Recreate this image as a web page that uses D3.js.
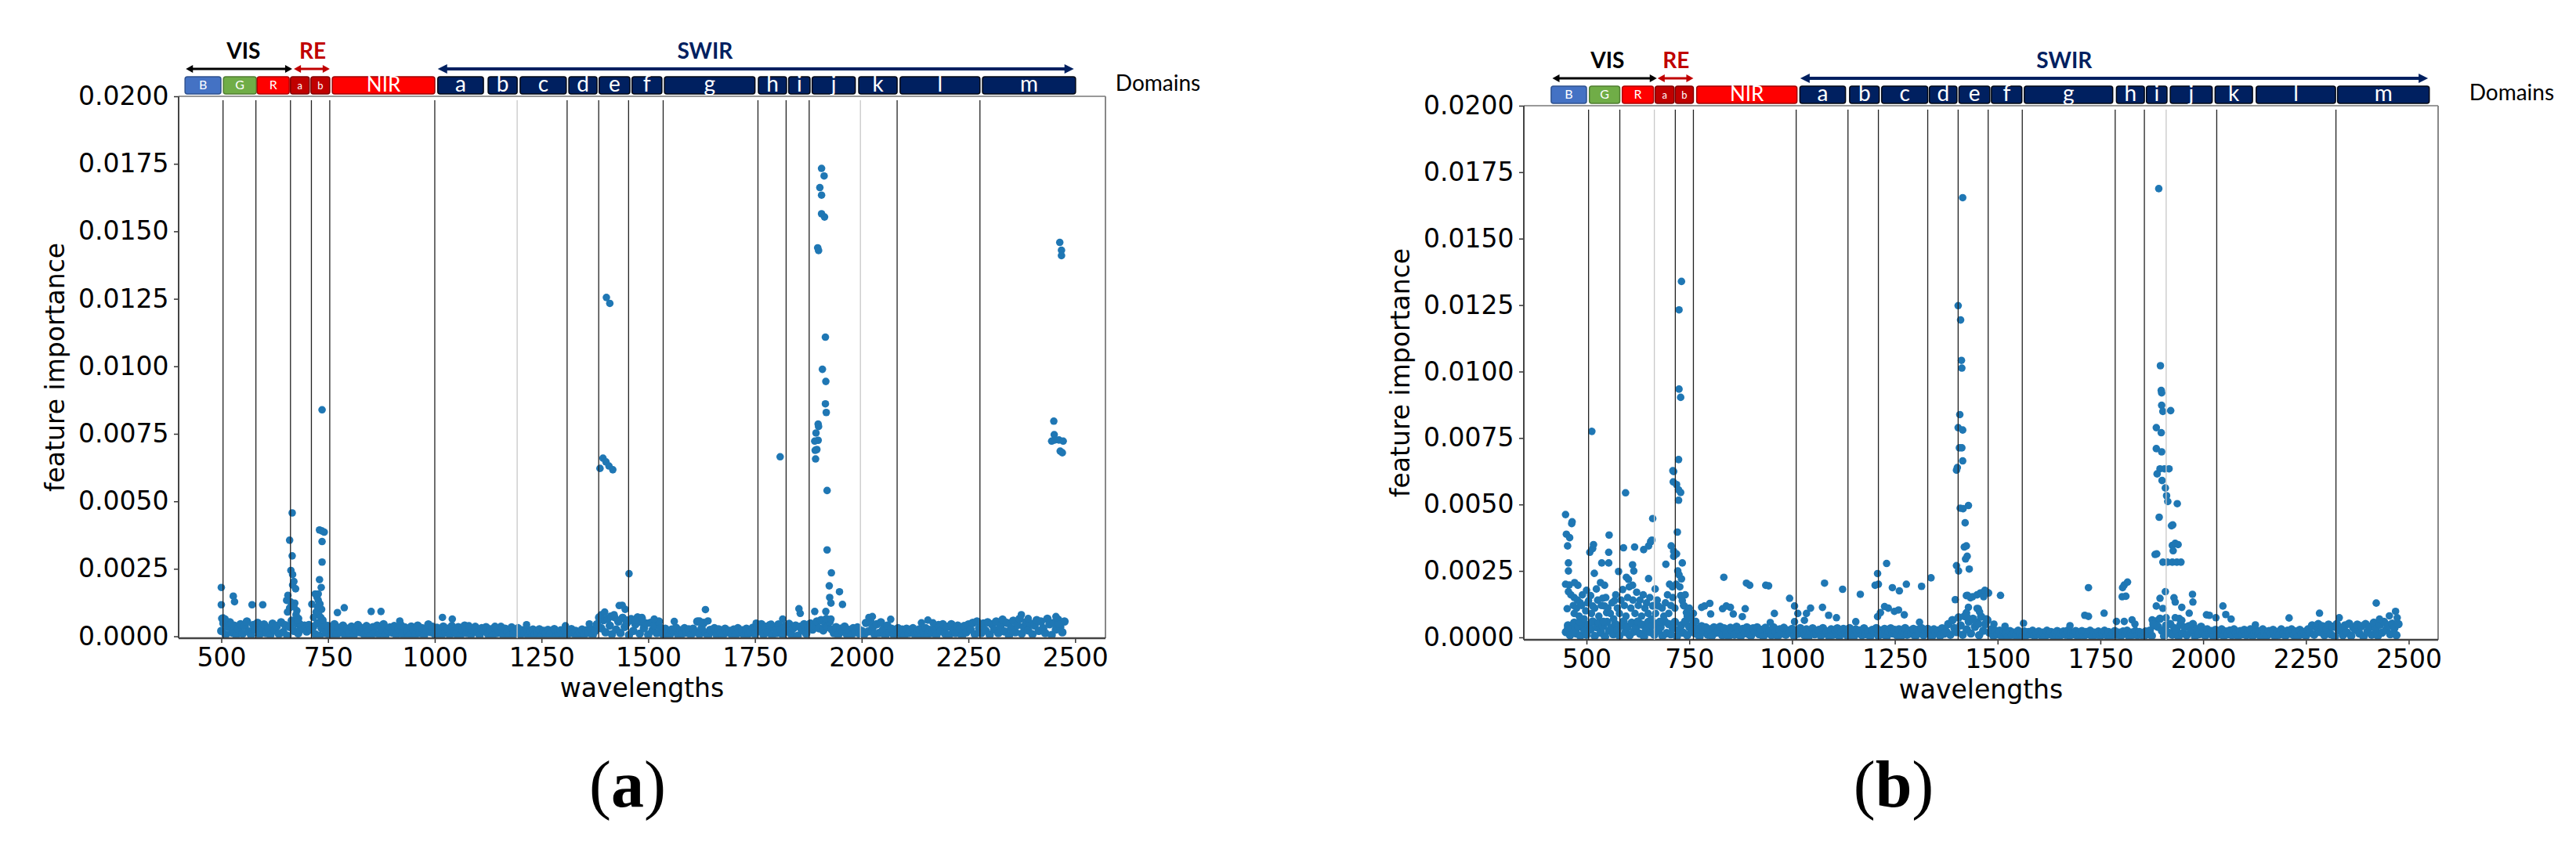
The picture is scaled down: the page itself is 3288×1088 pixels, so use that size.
<!DOCTYPE html>
<html>
<head>
<meta charset="utf-8">
<script src="https://cdn.jsdelivr.net/npm/d3@7"></script>
<style>
  body { margin: 0; background: #fff; }
  svg { display: block; }
</style>
</head>
<body>
<svg id="fig" width="3288" height="1088"></svg>
<script>
/* feature importance per wavelength, two panels (a) and (b) */

// axis ticks
const xTicks = [500, 750, 1000, 1250, 1500, 1750, 2000, 2250, 2500];
const yTicks = [0, 0.0025, 0.005, 0.0075, 0.01, 0.0125, 0.015, 0.0175, 0.02];

// spectral domains drawn above the plots
const bandNames = ["B", "G", "R", "a", "b", "NIR", "a", "b", "c", "d", "e", "f", "g", "h", "i", "j", "k", "l", "m"];
const bandGroups = ["B", "G", "R", "RE", "RE", "NIR", "SWIR", "SWIR", "SWIR", "SWIR", "SWIR", "SWIR", "SWIR", "SWIR", "SWIR", "SWIR", "SWIR", "SWIR", "SWIR"];
const bandEdgesA = [[415, 499], [505, 582], [584, 659], [662, 706], [710, 754], [760, 1000], [1007, 1114], [1125, 1193], [1200, 1308], [1314, 1380], [1385, 1457], [1462, 1532], [1538, 1750], [1758, 1824], [1829, 1879], [1884, 1985], [1993, 2083], [2090, 2277], [2283, 2501]];
const bandEdgesB = [[414, 500], [507, 581], [587, 663], [667, 713], [716, 760], [768, 1012], [1019, 1130], [1140, 1212], [1218, 1330], [1334, 1401], [1406, 1481], [1485, 1559], [1565, 1780], [1789, 1857], [1862, 1912], [1920, 2022], [2029, 2120], [2129, 2322], [2327, 2550]];
const regionNames = ["VIS", "RE", "SWIR"];
const regionSpanA = [[417, 666], [670, 754], [1007, 2497]];
const regionSpanB = [[417, 671], [673, 760], [1020, 2547]];
const regionLabelA = [552, 714, 1633];
const regionLabelB = [551, 718, 1662];

// domain boundary lines (nm)
const linesA = [504, 581, 662, 711, 754, 1000, 1193, 1310, 1384, 1454, 1535, 1757, 1823, 1877, 1997, 2083, 2277];
const linesB = [505, 581, 665, 716, 760, 1010, 1136, 1210, 1330, 1404, 1477, 1560, 1786, 1857, 1910, 2033, 2323];
const fadedA = [1193, 1997];
const fadedB = [665, 1910];

// low-importance floor, one value every 5 nm, in units of 1e-5
const floorStartA = 500;
const floorA = [
  20,48,6,35,52,14,40,3,28,45,10,38,55,18,4,42,25,50,8,33,
  44,12,30,5,47,22,38,9,52,16,41,2,35,58,20,48,11,25,30,40,
  18,42,25,35,8,48,2,30,44,12,38,0,22,45,6,32,15,40,4,28,
  10,36,3,25,42,15,30,6,38,20,2,34,12,40,8,27,45,5,22,33,
  14,38,4,28,42,9,33,18,2,36,24,7,40,12,30,3,26,44,16,35,
  8,32,20,2,36,14,28,5,38,18,10,34,3,25,40,12,30,6,22,35,
  15,4,30,20,34,8,26,2,32,12,22,35,6,28,16,3,33,10,24,30,
  5,22,12,28,2,18,25,8,14,26,3,20,10,24,6,17,27,1,12,22,
  8,24,4,18,27,11,20,2,15,25,7,22,13,28,5,19,45,70,30,60,
  15,65,40,8,72,25,55,12,68,35,50,5,60,20,45,70,10,52,30,48,
  6,50,22,40,12,55,30,8,28,15,3,25,18,32,5,22,10,30,14,26,
  4,28,16,55,8,30,50,12,2,24,18,30,6,26,12,3,28,15,20,8,
  25,5,30,14,22,3,28,10,18,32,8,40,20,45,6,35,15,42,3,30,
  12,44,25,5,38,18,46,8,30,40,2,35,22,45,10,32,48,25,40,55,
  30,60,22,45,35,55,25,12,34,5,28,18,36,8,24,2,30,15,33,10,
  20,4,50,18,55,30,8,45,12,52,25,2,40,15,28,6,22,30,10,25,
  3,28,12,22,30,6,18,26,2,15,30,8,24,12,28,4,42,20,45,10,
  35,5,45,20,12,40,28,2,38,15,44,25,50,8,55,30,12,48,22,52,
  6,45,25,55,12,38,62,18,50,3,30,58,15,42,65,10,35,52,22,48,
  8,40,60,20,55,30,12,65,45,5,50,25,62,35,15,55
];
const floorStartB = 450;
const floorB = [
  20,45,8,35,55,15,40,5,50,25,
  10,48,30,60,5,38,55,18,42,2,58,25,35,12,50,28,6,45,60,20,
  40,8,55,22,35,60,14,48,3,30,58,20,45,10,52,26,38,5,60,16,
  50,12,35,58,4,28,45,18,60,8,40,22,55,15,32,3,42,20,38,10,
  30,5,38,18,25,40,8,34,14,2,36,22,10,40,28,4,32,16,38,12,
  6,34,20,38,12,28,3,36,16,25,8,38,22,4,30,14,36,10,26,18,
  32,5,26,14,35,20,8,30,2,24,34,12,18,28,6,35,15,22,4,30,
  10,28,34,4,20,32,14,6,35,24,2,30,16,26,8,34,12,22,3,28,
  18,35,6,26,12,32,2,22,34,15,28,8,30,4,20,35,10,25,14,32,
  4,28,16,35,8,24,32,12,2,30,18,26,6,34,14,22,50,10,65,35,
  20,75,45,10,80,30,60,15,70,40,55,8,78,25,50,65,18,30,5,25,
  12,25,4,20,15,2,24,10,18,6,25,14,3,22,8,20,12,25,5,16,
  22,8,18,3,25,12,20,6,16,24,2,14,22,10,25,5,18,12,24,4,
  15,24,6,20,12,25,3,18,10,22,5,16,25,8,20,2,14,24,10,18,
  6,22,14,25,3,18,10,24,8,20,15,2,22,12,25,6,45,60,40,70,
  25,5,45,18,50,10,35,28,2,48,15,38,8,42,22,50,4,30,12,40,
  20,6,30,14,24,2,28,10,18,30,4,22,12,26,8,30,16,3,24,12,
  28,8,20,30,4,16,26,12,2,30,18,6,24,14,28,3,20,10,30,15,
  5,25,14,30,8,22,2,28,12,20,6,30,18,45,10,38,50,20,42,8,
  30,48,12,40,2,50,25,35,8,45,18,52,5,38,28,48,15,42,3,50,
  22,40,10,55,32,6,48,18,58,28,45,12,52,35,8,50
];

// points standing out of the floor: [wavelength, importance]
const peaksA = [
  [500,0.00181],[500,0.00117],[501,0.00066],[504,0.00068],[509,0.00064],[528,0.00149],[531,0.00128],[572,0.00117],[597,0.00117],
  [666,0.00457],[660,0.00356],[666,0.00298],[663,0.00244],[667,0.00229],[670,0.00203],[667,0.0019],[674,0.00176],[656,0.00152],
  [653,0.00133],[662,0.00128],[672,0.00123],[677,0.00095],[681,0.00066],[684,0.00047],[660,0.00105],[670,0.0011],[675,0.0008],
  [679,0.0006],[655,0.0009],
  [730,0.00394],[736,0.0039],[741,0.00386],[736,0.00351],[736,0.00275],[730,0.0021],[734,0.00181],[727,0.00157],[720,0.00157],
  [712,0.00119],[727,0.00133],[724,0.00145],[731,0.0012],[735,0.001],[722,0.0009],[728,0.0008],[716,0.0007],[733,0.0007],
  [725,0.0011],[738,0.0006],[736,0.00839],
  [772,0.00088],[788,0.00106],[851,0.00092],[874,0.00092],[918,0.00057],[1018,0.0007],[1041,0.00064],[1080,0.00039],
  [1141,0.00037],[1215,0.00043],[1306,0.00039],[1362,0.00046],
  [1402,0.01255],[1410,0.01233],[1387,0.00622],[1394,0.0066],[1401,0.00646],[1408,0.00631],[1417,0.00617],[1455,0.00232],
  [1432,0.00114],[1439,0.00115],[1446,0.001],[1485,0.0007],[1390,0.0008],[1398,0.0009],[1412,0.00075],[1420,0.0008],
  [1428,0.0006],[1440,0.0007],[1450,0.0006],[1460,0.00065],[1470,0.0006],
  [1486,0.00066],[1514,0.00064],[1561,0.00055],[1620,0.00057],[1634,0.00099],[1640,0.00057],[1753,0.00049],[1788,0.00045],
  [1809,0.00665],[1815,0.00064],[1853,0.00102],[1856,0.00085],
  [1906,0.01733],[1912,0.01705],[1902,0.01662],[1906,0.01634],[1906,0.01565],[1913,0.01553],[1897,0.01439],[1899,0.01429],
  [1915,0.01108],[1908,0.00989],[1916,0.00944],[1915,0.00861],[1917,0.00829],[1898,0.00786],[1899,0.00777],[1893,0.00753],
  [1898,0.00726],[1895,0.00692],[1890,0.00723],[1891,0.00689],[1892,0.00657],[1919,0.0054],[1919,0.0032],[1929,0.00235],
  [1924,0.00187],[1948,0.00165],[1925,0.00144],[1928,0.00123],[1955,0.00118],[1916,0.00092],[1917,0.00066],[1928,0.00064],
  [1890,0.00092],
  [2017,0.0007],[2025,0.00073],[2068,0.00063],[2140,0.0005],[2155,0.0006],[2167,0.0005],[2374,0.0008],[2390,0.00066],
  [2455,0.00073],[2462,0.00045],
  [2464,0.01459],[2468,0.0143],[2468,0.0141],[2450,0.00797],[2451,0.00747],[2452,0.00727],[2462,0.00727],[2465,0.00686],
  [2445,0.00723],[2472,0.00723],[2470,0.0068]
];
const peaksB = [
  [449,0.00462],[451,0.00388],[459,0.00375],[454,0.00344],[465,0.00435],[464,0.00428],[456,0.0028],[456,0.0025],[449,0.002],
  [458,0.00197],[456,0.00172],[471,0.00206],[479,0.00196],[462,0.0016],[470,0.0015],[478,0.0014],[485,0.0013],[468,0.0012],
  [490,0.0016],[453,0.00108],[454,0.00034],[483,0.00059],
  [500,0.00177],[508,0.0032],[515,0.00334],[517,0.00349],[519,0.00241],[524,0.00182],[505,0.00138],[510,0.00157],[515,0.00118],
  [534,0.00206],[544,0.00196],[537,0.0028],[554,0.0028],[555,0.00385],[554,0.0032],[539,0.00147],[544,0.00118],[549,0.00093],
  [578,0.00248],[568,0.00138],[590,0.00337],[595,0.00544],[597,0.00226],[602,0.00218],[612,0.00273],[617,0.0034],[615,0.0025],
  [612,0.00196],[639,0.0033],[651,0.00344],[656,0.0036],[659,0.00366],[661,0.00447],[651,0.00221],[667,0.00182],[675,0.00118],
  [661,0.00118],[693,0.00275],[706,0.00344],[712,0.00305],[712,0.00624],[711,0.00585],[719,0.00575],[724,0.00555],[729,0.00545],
  [724,0.00516],[721,0.00396],[712,0.00324],[719,0.00314],[702,0.002],[709,0.0019],[722,0.0025],[733,0.0028],[725,0.00236],
  [729,0.00157],[733,0.00138],[738,0.00118],[743,0.00093],
  [470,0.0009],[476,0.0011],[482,0.0008],[488,0.0012],[494,0.0007],[498,0.001],[503,0.0013],[512,0.0009],[520,0.0011],
  [527,0.0014],[530,0.0008],[536,0.0012],[541,0.0006],[547,0.0015],[552,0.0011],[558,0.0009],[562,0.0013],[566,0.0007],
  [571,0.0016],[575,0.0011],[580,0.0009],[584,0.0014],[588,0.0018],[592,0.0012],[596,0.0008],[600,0.0015],[604,0.0019],
  [608,0.0011],[613,0.0014],[618,0.0009],[622,0.0017],[626,0.0012],[630,0.0014],[634,0.0008],[638,0.0016],[642,0.0011],
  [646,0.0013],[650,0.0009],[654,0.0015],[658,0.0007],[662,0.0012],[668,0.0009],[672,0.0014],[678,0.0006],[684,0.0011],
  [688,0.0008],[692,0.0013],[697,0.0016],[700,0.0009],[705,0.0012],[710,0.0015],[715,0.0011],[718,0.002],[727,0.0019],
  [731,0.0022],[736,0.0012],[740,0.0016],[745,0.0008],[750,0.0011],[755,0.0007],[760,0.0009],[766,0.0006],
  [513,0.00775],[710,0.00627],[724,0.00669],[729,0.00903],[725,0.00934],[725,0.01232],[731,0.01339],
  [780,0.00113],[787,0.00118],[800,0.00128],[802,0.00088],[834,0.00226],[831,0.00108],[840,0.00118],[850,0.00113],[857,0.00088],
  [889,0.00204],[897,0.00196],[886,0.00108],[879,0.00078],[936,0.00196],[943,0.00194],[957,0.0009],[947,0.00056],[994,0.00147],
  [1006,0.00118],[1014,0.0009],[1006,0.00059],[1035,0.0009],[1030,0.00064],[1045,0.0011],[1079,0.00204],[1074,0.00113],
  [1089,0.00083],[1108,0.00074],[1123,0.00181],[1155,0.00059],[1166,0.00162],[1202,0.00196],[1210,0.002],[1208,0.0024],
  [1230,0.00278],[1208,0.00078],[1215,0.00093],[1225,0.00116],[1244,0.00187],[1261,0.00175],[1234,0.0011],[1249,0.00098],
  [1259,0.00103],[1273,0.00085],[1278,0.002],[1310,0.00057],[1315,0.00192],[1338,0.00224],
  [1397,0.00142],[1400,0.0027],[1405,0.0025],[1409,0.00486],[1416,0.00484],[1429,0.00496],[1421,0.00431],[1419,0.0034],
  [1424,0.00344],[1422,0.00295],[1426,0.00305],[1431,0.00257],[1424,0.00157],[1434,0.00149],[1424,0.00093],[1429,0.00113],
  [1453,0.00108],[1458,0.00167],[1473,0.00172],[1478,0.00167],[1400,0.00629],
  [1415,0.01654],[1404,0.01248],[1410,0.01194],[1412,0.01042],[1413,0.01013],[1408,0.00838],[1404,0.00789],[1415,0.0078],
  [1407,0.00713],[1413,0.00713],[1415,0.00664],[1402,0.00639],
  [1427,0.00158],[1439,0.00153],[1450,0.0016],[1461,0.00167],[1469,0.00177],[1476,0.00167],[1466,0.00153],[1507,0.00158],
  [1424,0.00091],[1425,0.00079],[1450,0.00109],[1456,0.00096],[1473,0.0007],[1454,0.0005],[1491,0.0005],[1518,0.00042],
  [1563,0.00053],[1676,0.00044],[1721,0.00187],[1712,0.00083],[1721,0.00079],[1759,0.00091],[1789,0.0006],[1808,0.0006],
  [1803,0.00153],[1812,0.00155],[1804,0.00187],[1808,0.00197],[1816,0.00208],[1827,0.00066],[1834,0.0005],[1876,0.00066],
  [1878,0.0005],
  [1892,0.01688],[1896,0.01022],[1898,0.00929],[1899,0.0092],[1899,0.00873],[1921,0.00853],[1902,0.0085],[1886,0.00789],
  [1898,0.0077],[1886,0.0071],[1899,0.00698],[1895,0.00634],[1906,0.00634],[1917,0.00634],[1888,0.00615],
  [1900,0.0059],[1908,0.00562],[1911,0.00533],[1914,0.00511],[1937,0.00503],[1893,0.00452],[1923,0.0042],[1926,0.00423],
  [1925,0.00346],[1932,0.00354],[1939,0.00349],[1927,0.00326],[1883,0.00312],[1887,0.00314],[1902,0.00283],[1913,0.00283],
  [1925,0.00283],[1936,0.00283],[1946,0.00283],[1908,0.00172],[1895,0.00147],[1886,0.00118],[1902,0.00109],[1929,0.00149],
  [1932,0.00133],[1948,0.00113],[1974,0.00162],[1975,0.00133],[1966,0.00091],[1910,0.00074],[1932,0.00074],[1942,0.00071],
  [1948,0.00064],
  [2008,0.00085],[2015,0.00083],[2031,0.00074],[2048,0.00118],[2055,0.00086],[2068,0.00069],[2127,0.00047],[2209,0.00073],
  [2283,0.00091],[2331,0.00074],[2421,0.00129],[2429,0.00069],[2453,0.00081],[2468,0.00098],[2472,0.00074]
];

/* ---- drawing ---- */
const svg = d3.select("#fig");
const FONT = "'DejaVu Sans', sans-serif";
const DOT = "#1f77b4";
const groupFill = { B: "#4472C4", G: "#70AD47", R: "#FF0000", RE: "#C00000", NIR: "#FF0000", SWIR: "#002060" };
const groupStroke = { B: "#2F528F", G: "#507E32", R: "#B00000", RE: "#800000", NIR: "#A00000", SWIR: "#000814" };
const groupFont = { B: 16, G: 16, R: 16, RE: 13, NIR: 26, SWIR: 28 };
const regionColor = ["#000000", "#C00000", "#002060"];

function drawPanel(p) {
  const g = svg.append("g").attr("id", p.id);
  const x = d3.scaleLinear().domain(p.xDomain).range([p.left, p.right]);
  const y = d3.scaleLinear().domain(p.yDomain).range([p.bottom, p.top]);

  // clip for the scatter
  svg.append("clipPath").attr("id", "clip-" + p.id)
    .append("rect").attr("x", p.left).attr("y", p.top)
    .attr("width", p.right - p.left).attr("height", p.bottom - p.top);

  const plot = g.append("g").attr("clip-path", `url(#clip-${p.id})`);

  // the floor is sampled every 5 nm, so its dots are drawn a bit wider to close up like the dense original
  const floorPts = p.floor.map((v, i) => [p.floorStart + i * 5, v * 1e-5]);
  plot.append("g").selectAll("circle").data(floorPts).enter().append("circle")
    .attr("cx", d => x(d[0]))
    .attr("cy", d => y(d[1]))
    .attr("r", 5.4)
    .attr("fill", DOT);
  plot.append("g").selectAll("circle").data(p.peaks).enter().append("circle")
    .attr("cx", d => x(d[0]))
    .attr("cy", d => y(d[1]))
    .attr("r", 4.8)
    .attr("fill", DOT);

  // axes
  const xAxis = g.append("g").attr("transform", `translate(0,${p.bottom})`)
    .call(d3.axisBottom(x).tickValues(xTicks).tickSize(6).tickPadding(7).tickFormat(d3.format("d")));
  const yAxis = g.append("g").attr("transform", `translate(${p.left},0)`)
    .call(d3.axisLeft(y).tickValues(yTicks).tickSize(6).tickPadding(6.5).tickFormat(d3.format(".4f")));
  [xAxis, yAxis].forEach(a => {
    a.select(".domain").remove();
    a.selectAll("line").attr("stroke", "#333").attr("stroke-width", 1.5);
    a.selectAll("text").attr("font-family", FONT).attr("font-size", 33).attr("fill", "#000");
  });

  // box
  g.append("line").attr("x1", p.left).attr("x2", p.right).attr("y1", p.top).attr("y2", p.top)
    .attr("stroke", "#999").attr("stroke-width", 2);
  g.append("line").attr("x1", p.right).attr("x2", p.right).attr("y1", p.top).attr("y2", p.bottom)
    .attr("stroke", "#888").attr("stroke-width", 2);
  g.append("line").attr("x1", p.left).attr("x2", p.left).attr("y1", p.top).attr("y2", p.bottom)
    .attr("stroke", "#444").attr("stroke-width", 2);
  g.append("line").attr("x1", p.left).attr("x2", p.right).attr("y1", p.bottom).attr("y2", p.bottom)
    .attr("stroke", "#444").attr("stroke-width", 2.5);

  // domain boundary lines over the points
  g.selectAll("line.bound").data(p.lines).enter().append("line")
    .attr("class", "bound")
    .attr("x1", d => x(d)).attr("x2", d => x(d))
    .attr("y1", p.top + 5).attr("y2", p.bottom)
    .attr("stroke", d => p.faded.includes(d) ? "#c8c8c8" : "#222")
    .attr("stroke-width", 1.3);

  // axis titles
  g.append("text").attr("x", (p.left + p.right) / 2).attr("y", p.bottom + 75)
    .attr("text-anchor", "middle").attr("font-family", FONT).attr("font-size", 33)
    .text("wavelengths");
  g.append("text")
    .attr("transform", `translate(${p.left - 146},${(p.top + p.bottom) / 2}) rotate(-90)`)
    .attr("text-anchor", "middle").attr("font-family", FONT).attr("font-size", 33)
    .text("feature importance");

  // domain boxes
  const boxTop = p.top - 25;
  const boxes = g.selectAll("g.band").data(p.bands).enter().append("g").attr("class", "band");
  boxes.append("rect")
    .attr("x", (d, i) => x(d[0]))
    .attr("y", boxTop)
    .attr("width", d => x(d[1]) - x(d[0]))
    .attr("height", 22)
    .attr("rx", 3)
    .attr("fill", (d, i) => groupFill[bandGroups[i]])
    .attr("stroke", (d, i) => groupStroke[bandGroups[i]])
    .attr("stroke-width", 1.5);
  boxes.append("text")
    .attr("x", d => (x(d[0]) + x(d[1])) / 2)
    .attr("y", (d, i) => groupFont[bandGroups[i]] > 20 ? p.top - 6 : p.top - 9)
    .attr("text-anchor", "middle")
    .attr("font-family", "Lato, 'Open Sans', sans-serif")
    .attr("font-size", (d, i) => groupFont[bandGroups[i]])
    .attr("fill", "#fff")
    .text((d, i) => bandNames[i]);

  // region arrows + labels
  const arrowY = p.top - 35;
  p.regions.forEach((span, i) => {
    const c = regionColor[i];
    const sw = i === 2 ? 4 : 3;
    const hl = i === 2 ? 12 : 9, hw = i === 2 ? 6 : 5;
    const x0 = x(span[0]), x1 = x(span[1]);
    g.append("line").attr("x1", x0 + hl - 1).attr("x2", x1 - hl + 1)
      .attr("y1", arrowY).attr("y2", arrowY).attr("stroke", c).attr("stroke-width", sw);
    g.append("path").attr("fill", c)
      .attr("d", `M${x0},${arrowY}L${x0 + hl},${arrowY - hw}L${x0 + hl},${arrowY + hw}Z`);
    g.append("path").attr("fill", c)
      .attr("d", `M${x1},${arrowY}L${x1 - hl},${arrowY - hw}L${x1 - hl},${arrowY + hw}Z`);
    g.append("text").attr("x", x(p.regionLabels[i])).attr("y", p.top - 48)
      .attr("text-anchor", "middle").attr("font-family", "Lato, 'Open Sans', sans-serif")
      .attr("font-weight", "bold").attr("font-size", 28).attr("fill", c)
      .text(regionNames[i]);
  });

  g.append("text").attr("x", x(p.bands[p.bands.length - 1][1]) + 51).attr("y", p.top - 7)
    .attr("font-family", "Lato, 'Open Sans', sans-serif").attr("font-size", 28).attr("fill", "#000")
    .text("Domains");

  // sub-figure tag
  const tag = g.append("text").attr("x", p.tagX).attr("y", 1030)
    .attr("text-anchor", "middle").attr("font-family", "'Liberation Serif', serif").attr("font-size", 84);
  tag.append("tspan").text("(");
  tag.append("tspan").attr("font-weight", "bold").text(p.tag);
  tag.append("tspan").text(")");
}

drawPanel({
  id: "a", tag: "a", tagX: 801,
  left: 228, right: 1411, top: 123, bottom: 815,
  xDomain: [400, 2571], yDomain: [-0.00007, 0.02],
  floor: floorA, floorStart: floorStartA, peaks: peaksA,
  lines: linesA, faded: fadedA, bands: bandEdgesA,
  regions: regionSpanA, regionLabels: regionLabelA
});
drawPanel({
  id: "b", tag: "b", tagX: 2417,
  left: 1945, right: 3112, top: 135, bottom: 817,
  xDomain: [347.5, 2571.5], yDomain: [-0.00009, 0.02],
  floor: floorB, floorStart: floorStartB, peaks: peaksB,
  lines: linesB, faded: fadedB, bands: bandEdgesB,
  regions: regionSpanB, regionLabels: regionLabelB
});
</script>
</body>
</html>
